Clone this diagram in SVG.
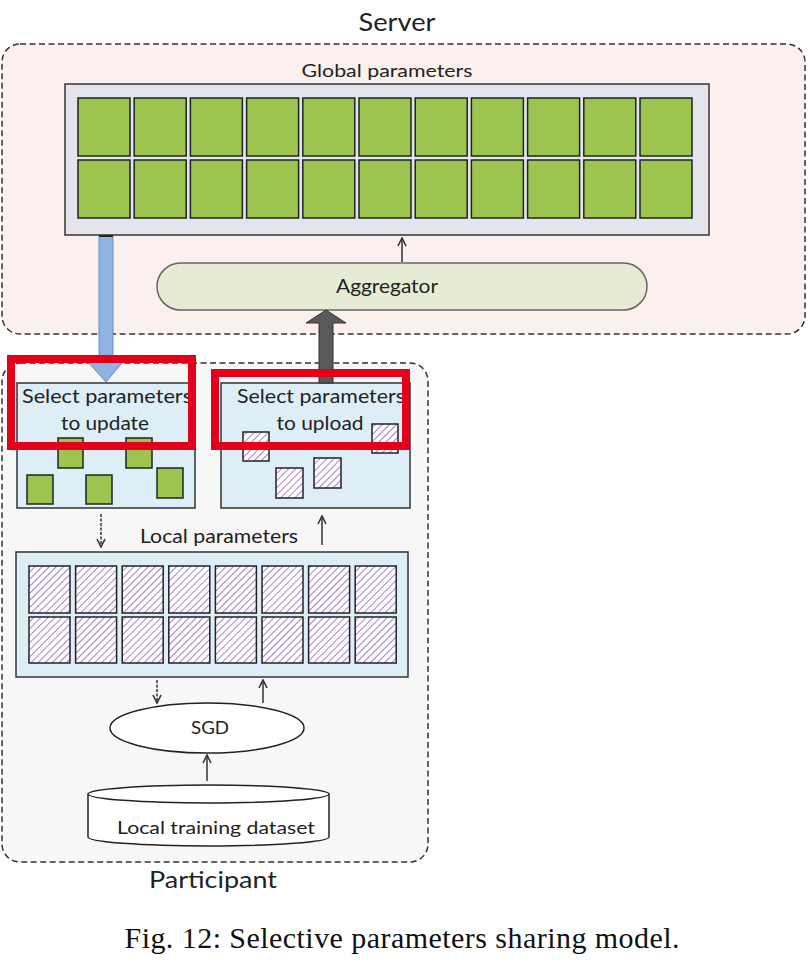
<svg xmlns="http://www.w3.org/2000/svg" width="810" height="966" viewBox="0 0 810 966">
<defs>
<pattern id="hatch" patternUnits="userSpaceOnUse" width="5" height="5" patternTransform="rotate(45)">
<rect width="5" height="5" fill="#ffffff"/>
<line x1="0" y1="0" x2="0" y2="5" stroke="#a57fd4" stroke-width="2"/>
</pattern>
<marker id="ah" viewBox="0 0 10 10" refX="9" refY="5" markerWidth="10" markerHeight="10" markerUnits="userSpaceOnUse" orient="auto">
<path d="M1,1 L9,5 L1,9" fill="none" stroke="#333" stroke-width="1.6"/>
</marker>
</defs>
<style>
.lbl{font-family:Lato,"Open Sans","Liberation Sans",sans-serif;fill:#222;text-anchor:middle}
.cap{font-family:"Liberation Serif","Times New Roman",Times,serif;font-size:30px;fill:#111;text-anchor:middle}
.grp{stroke:#333;stroke-width:1.5;stroke-dasharray:6 3.5}
.g{fill:#9bc54f;stroke:#222;stroke-width:1.5}
.h{fill:url(#hatch);stroke:#222;stroke-width:1.5}
.lb{fill:#deeef7;stroke:#333;stroke-width:1.5}
.conn{stroke:#333;stroke-width:1.5;fill:none;marker-end:url(#ah)}
.red{fill:none;stroke:#e2001a;stroke-width:8}
</style>
<rect width="810" height="966" fill="#ffffff"/>

<g id="server">
<rect class="grp" x="2" y="44" width="803" height="290" rx="18" fill="#fcf0ef"/>
<text class="lbl" x="397" y="31" font-size="25" textLength="77" lengthAdjust="spacingAndGlyphs">Server</text>
</g>

<g id="participant">
<rect class="grp" x="2" y="363" width="426" height="499" rx="18" fill="#f7f7f7"/>
<text class="lbl" x="213" y="888" font-size="23" textLength="128" lengthAdjust="spacingAndGlyphs">Participant</text>
</g>

<g id="global-parameters">
<text class="lbl" x="387" y="77" font-size="18" textLength="171" lengthAdjust="spacingAndGlyphs">Global parameters</text>
<rect x="65" y="84" width="644" height="151" fill="#e4e4ec" stroke="#333" stroke-width="1.5"/>
<g class="g">
<rect x="78" y="98" width="52" height="58"/><rect x="134.2" y="98" width="52" height="58"/><rect x="190.4" y="98" width="52" height="58"/><rect x="246.6" y="98" width="52" height="58"/><rect x="302.8" y="98" width="52" height="58"/><rect x="359" y="98" width="52" height="58"/><rect x="415.2" y="98" width="52" height="58"/><rect x="471.4" y="98" width="52" height="58"/><rect x="527.6" y="98" width="52" height="58"/><rect x="583.8" y="98" width="52" height="58"/><rect x="640" y="98" width="52" height="58"/>
<rect x="78" y="160" width="52" height="58"/><rect x="134.2" y="160" width="52" height="58"/><rect x="190.4" y="160" width="52" height="58"/><rect x="246.6" y="160" width="52" height="58"/><rect x="302.8" y="160" width="52" height="58"/><rect x="359" y="160" width="52" height="58"/><rect x="415.2" y="160" width="52" height="58"/><rect x="471.4" y="160" width="52" height="58"/><rect x="527.6" y="160" width="52" height="58"/><rect x="583.8" y="160" width="52" height="58"/><rect x="640" y="160" width="52" height="58"/>
</g>
</g>

<g id="aggregator">
<rect x="157" y="263" width="490" height="47" rx="23.5" fill="#e5ecd3" stroke="#666" stroke-width="1.5"/>
<text class="lbl" x="387" y="293" font-size="19" textLength="102" lengthAdjust="spacingAndGlyphs" fill="#333">Aggregator</text>
</g>

<g id="select-update">
<rect class="lb" x="17" y="383" width="178" height="125"/>
<text class="lbl" x="107" y="403" font-size="20" textLength="170" lengthAdjust="spacingAndGlyphs">Select parameters</text>
<text class="lbl" x="105" y="430" font-size="20" textLength="88" lengthAdjust="spacingAndGlyphs">to update</text>
<g class="g">
<rect x="58" y="438" width="25" height="30"/><rect x="126" y="438" width="26" height="30"/><rect x="27" y="475" width="26" height="29"/><rect x="86" y="475" width="26" height="29"/><rect x="157" y="468" width="26" height="30"/>
</g>
</g>

<g id="select-upload">
<rect class="lb" x="221" y="383" width="189" height="125"/>
<text class="lbl" x="321" y="403" font-size="20" textLength="168" lengthAdjust="spacingAndGlyphs">Select parameters</text>
<text class="lbl" x="320" y="430" font-size="20" textLength="87" lengthAdjust="spacingAndGlyphs">to upload</text>
<g class="h">
<rect x="243" y="432" width="26" height="29"/><rect x="372" y="424" width="26" height="29"/><rect x="276" y="468" width="27" height="30"/><rect x="314" y="458" width="27" height="30"/>
</g>
</g>

<g id="local-parameters">
<text class="lbl" x="219" y="543" font-size="19" textLength="158" lengthAdjust="spacingAndGlyphs">Local parameters</text>
<rect class="lb" x="16" y="552" width="392" height="125"/>
<g class="h">
<rect x="29" y="566" width="41" height="47"/><rect x="75.6" y="566" width="41" height="47"/><rect x="122.2" y="566" width="41" height="47"/><rect x="168.8" y="566" width="41" height="47"/><rect x="215.4" y="566" width="41" height="47"/><rect x="262" y="566" width="41" height="47"/><rect x="308.6" y="566" width="41" height="47"/><rect x="355.2" y="566" width="41" height="47"/>
<rect x="29" y="617" width="41" height="46"/><rect x="75.6" y="617" width="41" height="46"/><rect x="122.2" y="617" width="41" height="46"/><rect x="168.8" y="617" width="41" height="46"/><rect x="215.4" y="617" width="41" height="46"/><rect x="262" y="617" width="41" height="46"/><rect x="308.6" y="617" width="41" height="46"/><rect x="355.2" y="617" width="41" height="46"/>
</g>
</g>

<g id="sgd">
<ellipse cx="207" cy="728" rx="97" ry="25" fill="#ffffff" stroke="#222" stroke-width="1.5"/>
<text class="lbl" x="210" y="734" font-size="18" textLength="38" lengthAdjust="spacingAndGlyphs">SGD</text>
</g>

<g id="dataset">
<path d="M88,794 L88,837 A120.5,9 0 0 0 329,837 L329,794" fill="#ffffff" stroke="#222" stroke-width="1.5"/>
<ellipse cx="208.5" cy="794" rx="120.5" ry="9" fill="#ffffff" stroke="#222" stroke-width="1.5"/>
<text class="lbl" x="216" y="834" font-size="18" textLength="198" lengthAdjust="spacingAndGlyphs">Local training dataset</text>
</g>

<g id="connectors">
<line class="conn" x1="402" y1="262" x2="402" y2="238"/>
<line class="conn" x1="101" y1="514" x2="101" y2="547" stroke-dasharray="3 1.5"/>
<line class="conn" x1="322" y1="545" x2="322" y2="516"/>
<line class="conn" x1="157" y1="680" x2="157" y2="703" stroke-dasharray="3 1.5"/>
<line class="conn" x1="263" y1="703" x2="263" y2="680"/>
<line class="conn" x1="207" y1="781" x2="207" y2="755"/>
<path d="M99,236 L113,236 L113,362 L123,362 L106,382 L88,362 L99,362 Z" fill="#8eb4e3" stroke="#6a8cbf" stroke-width="1"/>
<line x1="99" y1="236" x2="113" y2="236" stroke="#222" stroke-width="2"/>
<path d="M319,383 L319,323 L306,323 L326,310 L346,323 L333,323 L333,383 Z" fill="#595959" stroke="#333" stroke-width="1"/>
</g>

<g id="highlights">
<rect class="red" x="11" y="359" width="181" height="87"/>
<rect class="red" x="215" y="373" width="191" height="73"/>
</g>

<text class="cap" x="402" y="948" textLength="555" lengthAdjust="spacing">Fig. 12: Selective parameters sharing model.</text>
</svg>
